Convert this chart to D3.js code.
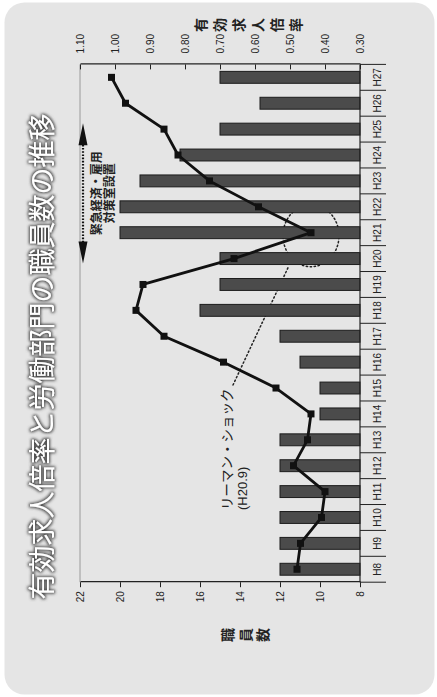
<!DOCTYPE html>
<html>
<head>
<meta charset="utf-8">
<script src="https://cdn.jsdelivr.net/npm/d3@7"></script>
<style>
  html, body { margin: 0; padding: 0; background: #fff; }
  svg { display: block; }
</style>
</head>
<body>
<svg id="chart" width="437" height="697"></svg>
<script>
// Fiscal years (Heisei era)
const categories = ["H8","H9","H10","H11","H12","H13","H14","H15","H16","H17",
                    "H18","H19","H20","H21","H22","H23","H24","H25","H26","H27"];
// Staff count of the labour division (bars, left axis)
const staff = [12,12,12,12,12,12,10,10,11,12,16,15,15,20,20,19,17,15,13,15];
// Active job openings-to-applicants ratio (line, right axis)
const ratio = [0.48,0.47,0.41,0.40,0.49,0.45,0.44,0.54,0.69,0.86,
               0.94,0.92,0.66,0.44,0.59,0.73,0.82,0.86,0.97,1.01];
const staffTicks = [8,10,12,14,16,18,20,22];
const ratioTicks = [0.30,0.40,0.50,0.60,0.70,0.80,0.90,1.00,1.10];

const W = 437, H = 697;
const JP = "'Noto Sans CJK JP', sans-serif";
const NUM = "'Liberation Sans', Arial, sans-serif";

const svg = d3.select("#chart");

const defs = svg.append("defs");
const glow = defs.append("filter").attr("id", "glow")
  .attr("x", "-5%").attr("y", "-40%").attr("width", "110%").attr("height", "180%");
glow.append("feMorphology").attr("in", "SourceAlpha").attr("operator", "dilate")
  .attr("radius", 1.3).attr("result", "d");
glow.append("feGaussianBlur").attr("in", "d").attr("stdDeviation", 1.7).attr("result", "b");
glow.append("feFlood").attr("flood-color", "#4a4a4a");
glow.append("feComposite").attr("in2", "b").attr("operator", "in").attr("result", "s");
const merge = glow.append("feMerge");
merge.append("feMergeNode").attr("in", "s");
merge.append("feMergeNode").attr("in", "SourceGraphic");

// Page and panel
svg.append("rect").attr("width", W).attr("height", H).attr("fill", "#fff");
svg.append("rect").attr("x", 4.5).attr("y", 2.5).attr("width", 430).attr("height", 692)
  .attr("rx", 20).attr("fill", "#e5e5e5");

// The chart is laid out landscape and turned a quarter turn counter-clockwise
const g = svg.append("g").attr("transform", `translate(0,${H}) rotate(-90)`);

const plot = { left: 114.8, right: 632.6, top: 80, bottom: 360 };

const x = d3.scaleBand().domain(categories).range([plot.left, plot.right])
  .paddingInner(0.54).paddingOuter(0.27);
const step = x.step();
const cx = c => x(c) + x.bandwidth() / 2;
const yL = d3.scaleLinear().domain([8, 22]).range([plot.bottom, plot.top]);
const yR = d3.scaleLinear().domain([0.3, 1.1]).range([plot.bottom, plot.top]);

// Plot frame top edge
g.append("line").attr("x1", plot.left).attr("x2", plot.right)
  .attr("y1", plot.top).attr("y2", plot.top).attr("stroke", "#9a9a9a").attr("stroke-width", 1);

// Lehman shock pointer (dotted), behind the bars
const iH21 = categories.indexOf("H21");
const ex = cx("H21") - 3, ey = yR(ratio[iH21]);
g.append("ellipse").attr("cx", ex).attr("cy", ey).attr("rx", 31).attr("ry", 28)
  .attr("fill", "none").attr("stroke", "#222").attr("stroke-width", 1.5)
  .attr("stroke-dasharray", "1.4 2.6").attr("stroke-linecap", "round");
g.append("line").attr("x1", 312).attr("y1", 233).attr("x2", ex - 32).attr("y2", ey - 23)
  .attr("stroke", "#222").attr("stroke-width", 1.5)
  .attr("stroke-dasharray", "1.4 2.6").attr("stroke-linecap", "round");

// Bars
g.append("g").selectAll("rect").data(categories).join("rect")
  .attr("x", d => x(d))
  .attr("width", x.bandwidth())
  .attr("y", (d, i) => yL(staff[i]))
  .attr("height", (d, i) => yL(8) - yL(staff[i]))
  .attr("fill", "#4b4b4b").attr("stroke", "#1c1c1c").attr("stroke-width", 1);

// Ratio line and markers
const line = d3.line().x((d, i) => cx(categories[i])).y(d => yR(d));
g.append("path").datum(ratio).attr("d", line)
  .attr("fill", "none").attr("stroke", "#111").attr("stroke-width", 2.8)
  .attr("stroke-linejoin", "round");
g.append("g").selectAll("rect").data(ratio).join("rect")
  .attr("x", (d, i) => cx(categories[i]) - 3.5)
  .attr("y", d => yR(d) - 3.5)
  .attr("width", 7).attr("height", 7).attr("fill", "#111");

// Left axis: staff count
const axL = g.append("g").attr("transform", `translate(${plot.left},0)`)
  .call(d3.axisLeft(yL).tickValues(staffTicks).tickSize(5).tickSizeOuter(0).tickPadding(4));
axL.select(".domain").attr("stroke", "#222").attr("stroke-width", 1.2);
axL.selectAll(".tick line").attr("stroke", "#222");
axL.selectAll("text").attr("font-family", NUM).attr("font-size", 10).attr("fill", "#222");

// Right axis: job openings ratio (ticks point inward)
const axR = g.append("g").attr("transform", `translate(${plot.right},0)`)
  .call(d3.axisRight(yR).tickValues(ratioTicks).tickSize(-5).tickSizeOuter(0)
        .tickPadding(11).tickFormat(d3.format(".2f")));
axR.select(".domain").attr("stroke", "#222").attr("stroke-width", 1.2);
axR.selectAll(".tick line").attr("stroke", "#222");
axR.selectAll("text").attr("font-family", NUM).attr("font-size", 10).attr("fill", "#222");

// Category axis with separators between years
g.append("line").attr("x1", plot.left).attr("x2", plot.right)
  .attr("y1", plot.bottom).attr("y2", plot.bottom).attr("stroke", "#222").attr("stroke-width", 1.2);
const bounds = d3.range(categories.length + 1).map(i => plot.left + i * step);
g.append("g").selectAll("line").data(bounds).join("line")
  .attr("x1", d => d).attr("x2", d => d)
  .attr("y1", plot.bottom).attr("y2", plot.bottom + 26)
  .attr("stroke", "#222").attr("stroke-width", 1);
g.append("g").selectAll("text").data(categories).join("text")
  .attr("x", d => cx(d)).attr("y", plot.bottom + 20.5)
  .attr("text-anchor", "middle")
  .attr("font-family", NUM).attr("font-size", 10).attr("fill", "#222")
  .text(d => d);

// Axis titles (stacked vertically)
const titleL = "職員数".split("");
g.append("g").selectAll("text").data(titleL).join("text")
  .attr("x", 62).attr("y", (d, i) => 233 + i * 17.7)
  .attr("text-anchor", "middle").attr("font-family", JP).attr("font-weight", "bold")
  .attr("font-size", 14).attr("fill", "#222").text(d => d);
const titleR = "有効求人倍率".split("");
g.append("g").selectAll("text").data(titleR).join("text")
  .attr("x", 672).attr("y", (d, i) => 206 + i * 18.9)
  .attr("text-anchor", "middle").attr("font-family", JP).attr("font-weight", "bold")
  .attr("font-size", 14).attr("fill", "#222").text(d => d);

// Chart title
g.append("text").attr("x", 340.5).attr("y", 52)
  .attr("text-anchor", "middle").attr("font-family", JP).attr("font-size", 27)
  .attr("fill", "#fff").attr("filter", "url(#glow)")
  .text("有効求人倍率と労働部門の職員数の推移");

// Emergency economy & employment office: double arrow with dotted shaft
const a0 = cx("H20") - 5, a1 = cx("H25") + 6, av = 83;
g.append("line").attr("x1", a0 + 18).attr("x2", a1 - 18).attr("y1", av).attr("y2", av)
  .attr("stroke", "#111").attr("stroke-width", 2.2).attr("stroke-dasharray", "1.6 1.6");
g.append("path")
  .attr("d", `M${a0},${av} L${a0 + 22},${av - 4.5} L${a0 + 22},${av + 4.5} Z`
           + ` M${a1},${av} L${a1 - 22},${av - 4.5} L${a1 - 22},${av + 4.5} Z`)
  .attr("fill", "#111");
const midA = (a0 + a1) / 2;
g.append("text").attr("x", midA).attr("y", 100.5).attr("text-anchor", "middle")
  .attr("font-family", JP).attr("font-weight", "bold").attr("font-size", 12)
  .attr("fill", "#222").text("緊急経済・雇用");
g.append("text").attr("x", midA).attr("y", 113.5).attr("text-anchor", "middle")
  .attr("font-family", JP).attr("font-weight", "bold").attr("font-size", 12)
  .attr("fill", "#222").text("対策室設置");

// Lehman shock label
g.append("text").attr("x", 187).attr("y", 231.5)
  .attr("font-family", JP).attr("font-size", 13.5).attr("fill", "#222")
  .text("リーマン・ショック");
g.append("text").attr("x", 187).attr("y", 246.5)
  .attr("font-family", NUM).attr("font-size", 13).attr("fill", "#222")
  .text("(H20.9)");
</script>
</body>
</html>
